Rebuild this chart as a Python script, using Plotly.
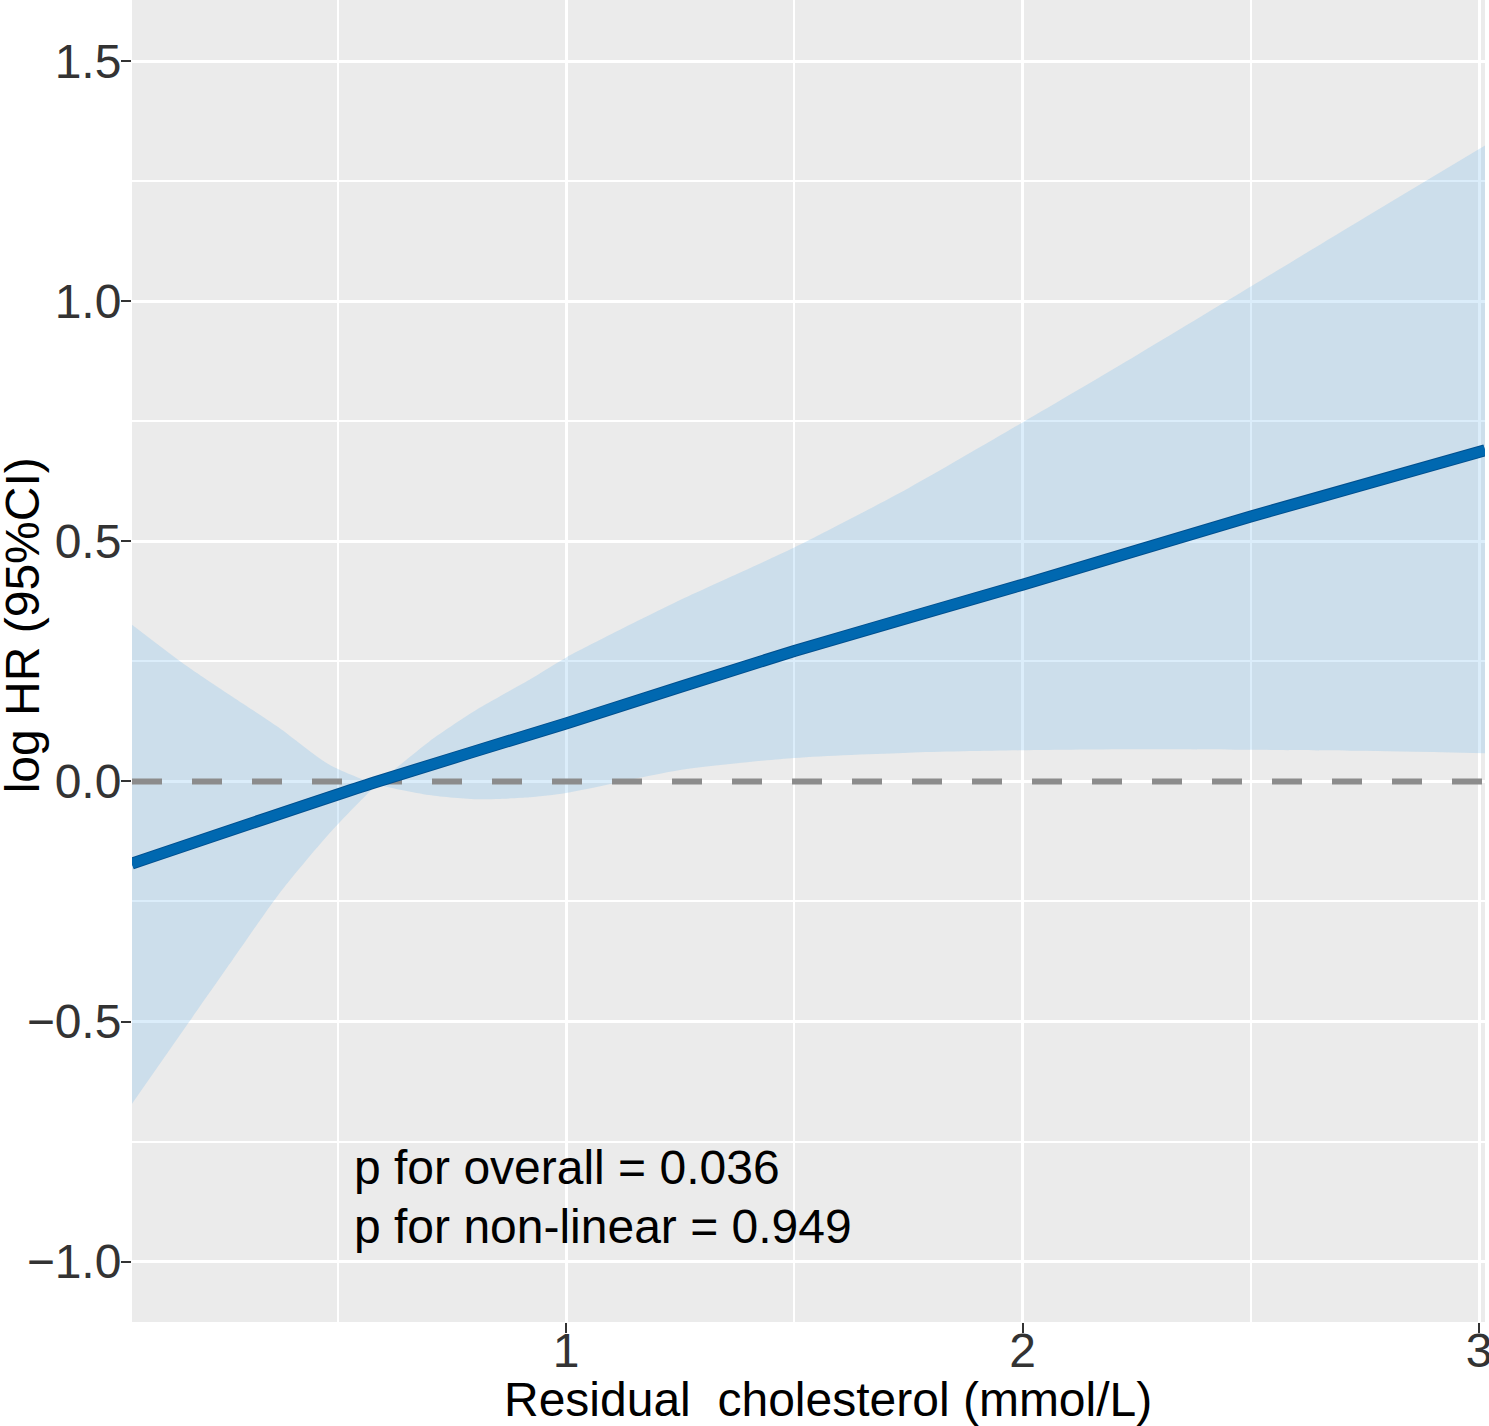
import plotly.graph_objects as go

# ---- data ----
x_grid = [0.049, 0.17, 0.27, 0.37, 0.48, 0.58, 0.70, 0.81, 0.92, 1.0,
          1.25, 1.5, 1.75, 2.0, 2.25, 2.5, 2.75, 3.013]
ci_a = [-0.672, -0.507, -0.371, -0.236, -0.11, -0.012, 0.083, 0.153, 0.212, 0.258,
        0.378, 0.4875, 0.611, 0.748, 0.888, 1.031, 1.175, 1.325]
ci_b = [0.327, 0.240, 0.176, 0.113, 0.036, -0.004, -0.028, -0.037, -0.033, -0.024,
        0.024, 0.049, 0.060, 0.065, 0.067, 0.066, 0.064, 0.059]

x_fit = [0.049, 0.58, 1.0, 1.5, 2.0, 2.5, 3.013]
hr_fit = [-0.171, -0.002, 0.121, 0.272, 0.410, 0.552, 0.690]

x_ticks = [1, 2, 3]
y_ticks = [-1.0, -0.5, 0.0, 0.5, 1.0, 1.5]

X_RANGE = [0.0493, 3.013]
Y_RANGE = [-1.126, 1.628]

p_texts = ["p for overall = 0.036", "p for non-linear = 0.949"]

FONT = "Liberation Sans, Arial, sans-serif"

fig = go.Figure()

# confidence band: fill between the two CI curves
fig.add_trace(go.Scatter(
    x=x_grid, y=ci_b,
    mode="lines",
    line=dict(width=0, shape="spline", smoothing=0.7),
    hoverinfo="skip",
    showlegend=False,
))
fig.add_trace(go.Scatter(
    x=x_grid, y=ci_a,
    mode="lines",
    fill="tonexty",
    fillcolor="rgba(110,185,235,0.25)",
    line=dict(width=0, shape="spline", smoothing=0.7),
    hoverinfo="skip",
    showlegend=False,
))

# reference line at 0
fig.add_trace(go.Scatter(
    x=X_RANGE, y=[0, 0],
    mode="lines",
    line=dict(color="#8C8C8C", width=6, dash="30px,30px"),
    hoverinfo="skip",
    showlegend=False,
))

# fitted line (dark edge + main colour)
fig.add_trace(go.Scatter(
    x=x_fit, y=hr_fit,
    mode="lines",
    line=dict(color="#00508F", width=12, shape="spline", smoothing=0.6),
    hoverinfo="skip",
    showlegend=False,
))
fig.add_trace(go.Scatter(
    x=x_fit, y=hr_fit,
    mode="lines",
    line=dict(color="#0068B0", width=10, shape="spline", smoothing=0.6),
    showlegend=False,
))

axis_common = dict(
    showline=False,
    zeroline=False,
    automargin=False,
    ticks="outside",
    ticklen=10,
    tickwidth=2,
    tickcolor="#333333",
    tickfont=dict(family=FONT, size=48, color="#333333"),
    ticklabeloverflow="allow",
    showgrid=True,
    gridcolor="white",
    gridwidth=3,
)

fig.update_xaxes(
    range=X_RANGE,
    tickvals=x_ticks,
    ticktext=[str(v) for v in x_ticks],
    ticklabelstandoff=-24,
    minor=dict(tickvals=[0.5, 1.5, 2.5], showgrid=True, gridcolor="white", gridwidth=1.5, ticks=""),
    **axis_common,
)
fig.update_yaxes(
    range=Y_RANGE,
    tickvals=y_ticks,
    ticktext=[f"{v:.1f}".replace("-", "\u2212") for v in y_ticks],
    ticklabelstandoff=-10,
    minor=dict(tickvals=[-0.75, -0.25, 0.25, 0.75, 1.25], showgrid=True, gridcolor="white", gridwidth=1.5, ticks=""),
    **axis_common,
)

annotations = [
    dict(text="Residual\u00a0 cholesterol (mmol/L)", xref="paper", yref="paper",
         x=0.5144, y=-0.059, xanchor="center", yanchor="middle", showarrow=False,
         font=dict(family=FONT, size=48, color="black")),
    dict(text="log HR (95%CI)", xref="paper", yref="paper",
         x=-0.0813, y=0.527, xanchor="center", yanchor="middle", textangle=-90,
         showarrow=False, font=dict(family=FONT, size=48, color="black")),
]
for txt, yy in zip(p_texts, [0.1165, 0.0726]):
    annotations.append(dict(text=txt, xref="paper", yref="paper", x=0.1626, y=yy,
                            xanchor="left", yanchor="middle", showarrow=False,
                            font=dict(family=FONT, size=48, color="black")))

fig.update_layout(
    width=1489, height=1426,
    margin=dict(l=132, r=4, t=0, b=104, autoexpand=False),
    paper_bgcolor="white",
    plot_bgcolor="#EBEBEB",
    annotations=annotations,
    showlegend=False,
)

fig.write_html(
    "out.html",
    config={"displayModeBar": False},
    post_script="document.body.style.margin='0';document.body.style.overflow='hidden';",
)
